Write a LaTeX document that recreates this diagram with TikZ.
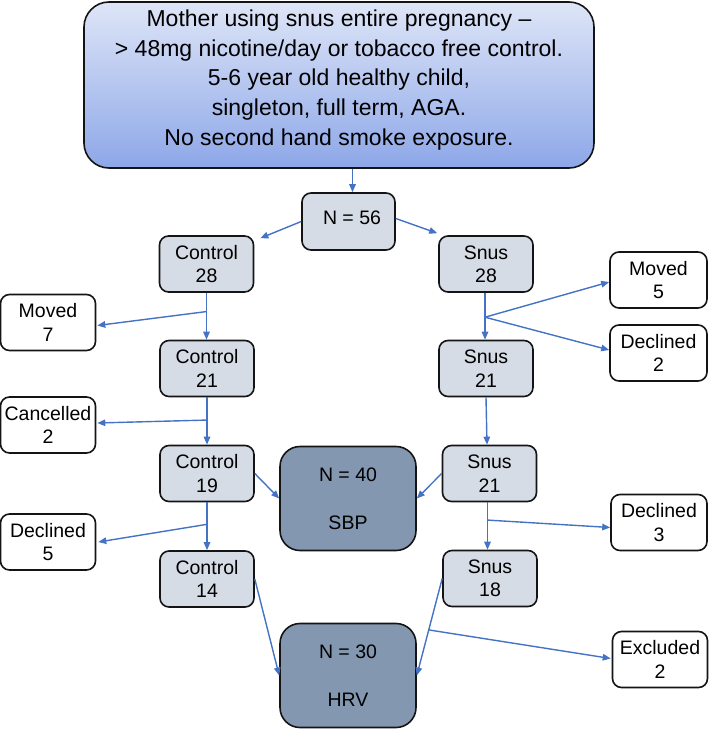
\documentclass[tikz,border=0pt]{standalone}
\usepackage{fontspec}
\setmainfont{Liberation Sans}
\usetikzlibrary{arrows.meta,calc}
\definecolor{lightbox}{RGB}{214,220,229}
\definecolor{darkbox}{RGB}{132,151,176}
\definecolor{arrowblue}{RGB}{68,114,196}
\definecolor{topA}{RGB}{222,229,247}
\definecolor{topB}{RGB}{141,167,232}
\definecolor{edge}{RGB}{20,20,20}
\begin{document}
\begin{tikzpicture}[x=1pt,y=-1pt,
 box/.style={draw=edge, line width=1.6pt, rounded corners=9pt, minimum width=94pt, minimum height=56pt, inner sep=0pt, align=center, font=\fontsize{19.5}{23.4}\selectfont},
 grp/.style={box, fill=lightbox},
 wbox/.style={box, fill=white, minimum width=95pt},
 dbox/.style={box, fill=darkbox, minimum width=136pt, minimum height=104pt, rounded corners=20pt},
 txt/.style={inner sep=0pt, align=center},
 arr/.style={draw=arrowblue, line width=1.4pt, -{Triangle[length=8pt,width=6.5pt]}}
]
\useasboundingbox (0,0) rectangle (709,730);

% top box
\node[draw=edge, line width=1.6pt, rounded corners=25pt, top color=topA, bottom color=topB,
      minimum width=510pt, minimum height=166pt, inner sep=0pt] (top) at (339,85) {};
\node[txt, font=\fontsize{23}{29.7}\selectfont] (toptext) at (339,80) {Mother using snus entire pregnancy --\\
> 48mg nicotine/day or tobacco free control.\\
5-6 year old healthy child,\\
singleton, full term, AGA.\\
No second hand smoke exposure.};

% N = 56
\node[grp, minimum width=93pt, minimum height=57pt] (n56) at (348.5,221.5) {};
\node[txt, font=\fontsize{19.5}{23.4}\selectfont] (n56t) at (352,218) {N = 56};

% left column
\node[grp] (c28) at (206.5,264) {Control\\28};
\node[grp] (c21) at (207,368.5) {Control\\21};
\node[grp] (c19) at (207,473.5) {Control\\19};
\node[grp] (c14) at (207,579) {Control\\14};

\node[wbox] (moved7) at (48,322.5) {Moved\\7};
\node[wbox] (canc2) at (48,425) {Cancelled\\2};
\node[wbox] (decl5) at (48,542) {Declined\\5};

% right column
\node[grp] (s28) at (486,264) {Snus\\28};
\node[grp] (s21a) at (486,368.5) {Snus\\21};
\node[grp] (s21b) at (489.5,473.5) {Snus\\21};
\node[grp] (s18) at (490,578.5) {Snus\\18};

\node[wbox, minimum width=97pt] (moved5) at (658.5,280) {Moved\\5};
\node[wbox, minimum width=97pt] (decl2) at (658.5,353) {Declined\\2};
\node[wbox, minimum width=96pt] (decl3) at (659,522.5) {Declined\\3};
\node[wbox] (excl2) at (660,659.5) {Excluded\\2};

% outcome boxes
\node[dbox] (sbp) at (348,498.5) {N = 40\\[25pt]SBP};
\node[dbox] (hrv) at (348,675.5) {N = 30\\[25pt]HRV};

% connectors
\coordinate (t1) at ($(n56.north)+(4,0)$);
\draw[arr] (top.south -| t1) -- (t1);
\draw[arr] (n56.west) -- ($(c28.north east)+(6,3)$);
\draw[arr] ($(n56.east)+(0,-3)$) -- ($(s28.north west)+(-1,-2)$);

% control chain
\draw[arr] (c28.south) -- (c28.south |- c21.north);
\coordinate (b4) at ($(c28.south)!0.4!(c28.south |- c21.north)$);
\draw[arr] (b4) -- ($(moved7.east)+(1,3)$);

\draw[arr] (c21.south) -- (c21.south |- c19.north);
\coordinate (b5) at ($(c21.south)!0.48!(c21.south |- c19.north)$);
\draw[arr] (b5) -- ($(canc2.east)+(1,-2)$);

\draw[arr] (c19.south) -- (c19.south |- c14.north);
\coordinate (b6) at ($(c19.south)!0.46!(c19.south |- c14.north)$);
\draw[arr] (b6) -- ($(decl5.east)+(2,0)$);

% snus chain
\draw[arr] ($(s28.south)+(-1,0)$) -- ($(s28.south |- s21a.north)+(-1,0)$);
\coordinate (b7) at ($(s28.south)!0.52!(s28.south |- s21a.north)+(-1,0)$);
\draw[arr] (b7) -- ($(moved5.west)+(0,2)$);
\draw[arr] (b7) -- ($(decl2.west)+(0,-3)$);

\draw[arr] (s21a.south) -- ($(s21a.south |- s21b.north)+(1,0)$);

\draw[arr] ($(s21b.south)+(-2,0)$) -- ($(s21b.south |- s18.north)+(-2,0)$);
\coordinate (b9) at ($(s21b.south)!0.375!(s21b.south |- s18.north)+(-2,0)$);
\draw[arr] (b9) -- ($(decl3.west)+(0,5)$);

% to outcomes
\draw[arr] (c19.east) -- (sbp.west);
\draw[arr] (s21b.west) -- (sbp.east);
\draw[arr] (c14.east) -- (hrv.west);
\draw[arr] (s18.west) -- (hrv.east);
\coordinate (b13) at ($(s18.west)!0.53!(hrv.east)$);
\draw[arr] (b13) -- ($(excl2.west)+(-1,-1)$);
\end{tikzpicture}
\end{document}
